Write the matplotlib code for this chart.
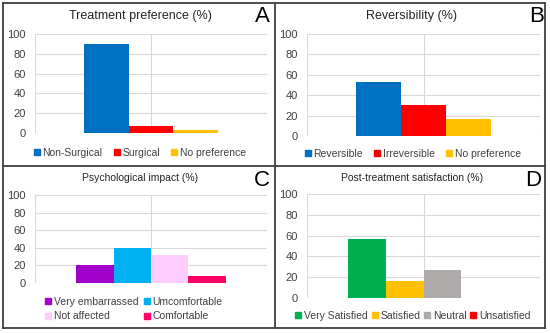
import matplotlib
matplotlib.use("Agg")
import matplotlib.pyplot as plt
from matplotlib.lines import Line2D

plt.rcParams['font.family'] = ['Liberation Sans', 'DejaVu Sans']

# ---- data ----
a_title = "Treatment preference (%)"
a_labels = ["Non-Surgical", "Surgical", "No preference"]
a_values = [90, 7, 3]
a_colors = ["#0070C0", "#FF0000", "#FFC000"]

b_title = "Reversibility (%)"
b_labels = ["Reversible", "Irreversible", "No preference"]
b_values = [53, 30, 17]
b_colors = ["#0070C0", "#FF0000", "#FFC000"]

c_title = "Psychological impact (%)"
c_labels = ["Very embarrassed", "Umcomfortable", "Not affected", "Comfortable"]
c_values = [20, 40, 32, 8]
c_colors = ["#A000C8", "#00B0F0", "#FFCCFF", "#FF0066"]

d_title = "Post-treatment satisfaction (%)"
d_labels = ["Very Satisfied", "Satisfied", "Neutral", "Unsatisfied"]
d_values = [57, 16, 27, 0]
d_colors = ["#00B050", "#FFC000", "#AEAAAA", "#FF0000"]

yticks = [0, 20, 40, 60, 80, 100]

W, H = 550, 333
fig = plt.figure(figsize=(W / 100, H / 100), dpi=100)
fig.patch.set_facecolor("white")

GRID = "#D9D9D9"
TXT = "#404040"


def rect(l, t, r, b):
    return [l / W, 1 - b / H, (r - l) / W, (b - t) / H]


def panel(box, title, tpos, tsize, letter, lpos, labels, values, colors, gw,
          legpos, ncol, colsp, order=None):
    ax = fig.add_axes(rect(*box))
    n = len(values)
    w = gw / n
    xs = [-gw / 2 + w * (i + 0.5) for i in range(n)]
    ax.bar(xs, values, width=w, color=colors, zorder=3)
    ax.set_xlim(-0.5, 0.5)
    ax.set_ylim(0, 100)
    ax.set_yticks(yticks)
    ax.set_xticks([])
    for s in ax.spines.values():
        s.set_visible(False)
    for y in yticks:
        ax.axhline(y, color=GRID, lw=0.8, zorder=1)
    for x in (-0.5, 0, 0.5):
        ax.plot([x, x], [0, 100], color=GRID, lw=0.8, zorder=1)
    ax.tick_params(axis='y', length=0, pad=6.5, labelsize=8, labelcolor=TXT)
    fig.text(tpos[0] / W, 1 - tpos[1] / H, title, ha='center', va='center',
             fontsize=tsize, color="#262626")
    fig.text(lpos[0] / W, 1 - lpos[1] / H, letter, ha='center', va='center',
             fontsize=16, color="black")
    handles = [Line2D([], [], marker='s', ls='none', markersize=4.5,
                      markerfacecolor=c, markeredgecolor=c) for c in colors]
    labs = list(labels)
    if order is not None:
        handles = [handles[i] for i in order]
        labs = [labs[i] for i in order]
    fig.legend(handles, labs, loc='center',
               bbox_to_anchor=(legpos[0] / W, 1 - legpos[1] / H),
               ncol=ncol, frameon=False, fontsize=7.5, labelcolor=TXT,
               handlelength=0.5, handletextpad=0.3, columnspacing=colsp,
               labelspacing=0.45, borderpad=0, borderaxespad=0)
    return ax


panel((35, 34, 267, 133), a_title, (140, 16), 9, "A", (262, 16),
      a_labels, a_values, a_colors, 0.578, (140, 153), 3, 1.1)
panel((307, 34, 540, 136), b_title, (412, 16), 9, "B", (537, 16),
      b_labels, b_values, b_colors, 0.578, (413, 154), 3, 1.1)
panel((35, 195, 267, 283), c_title, (140, 178), 7.5, "C", (262, 180),
      c_labels, c_values, c_colors, 0.645, (134, 309), 2, 0.6,
      order=[0, 2, 1, 3])
panel((307, 194, 540, 298), d_title, (412, 178), 7.5, "D", (533, 180),
      d_labels, d_values, d_colors, 0.645, (413, 316), 4, 0.4)

# frame lines
FR = "#404040"
def fline(x0, y0, x1, y1):
    fig.add_artist(Line2D([x0 / W, x1 / W], [1 - y0 / H, 1 - y1 / H],
                          color=FR, lw=1.3, transform=fig.transFigure))

fline(3, 3, 545, 3)
fline(3, 328, 545, 328)
fline(3, 3, 3, 328)
fline(545, 3, 545, 328)
fline(275, 3, 275, 328)
fline(3, 166, 545, 166)

fig.savefig("out.png", dpi=100, facecolor="white")
